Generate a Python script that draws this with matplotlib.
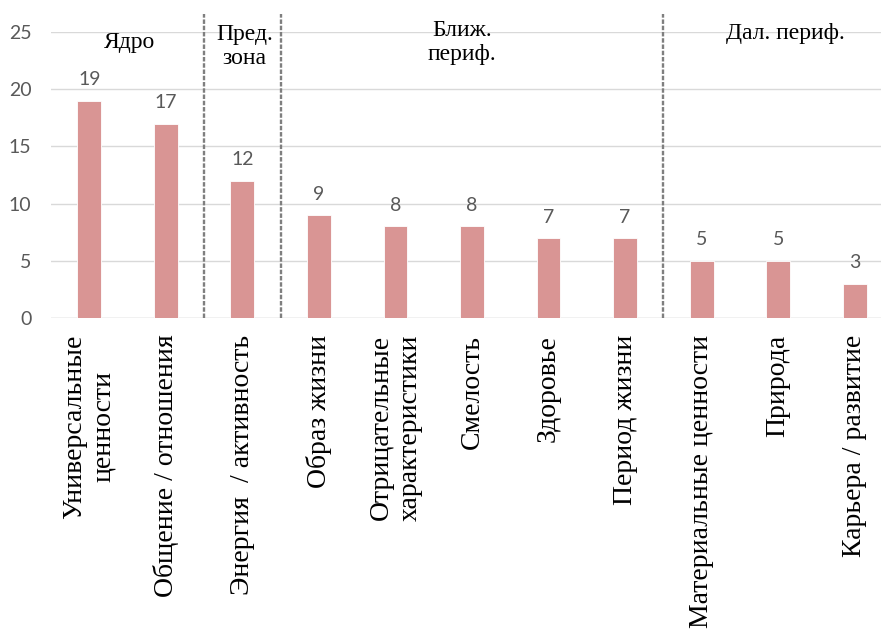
import numpy as np
import matplotlib
matplotlib.use('Agg')
import matplotlib.pyplot as plt

categories = ['Универсальные\nценности', 'Общение / отношения', 'Энергия  / активность',
              'Образ жизни', 'Отрицательные\nхарактеристики', 'Смелость', 'Здоровье',
              'Период жизни', 'Материальные ценности', 'Природа', 'Карьера / развитие']
values = [19, 17, 12, 9, 8, 8, 7, 7, 5, 5, 3]
zone_names = ['Ядро', 'Пред.\nзона', 'Ближ.\nпериф.', 'Дал. периф.']
zone_x = [0.53, 2.03, 4.87, 9.1]
zone_y = [24.1, 23.7, 24.1, 24.85]
borders = [1.5, 2.5, 7.5]

serif = 'Liberation Serif'
sans = 'Lato'

fig = plt.figure(figsize=(8.81, 6.31), dpi=100)
ax = fig.add_axes([51/881, 313/631, 842/881, 286/631])

x = np.arange(len(values))
ax.bar(x, values, width=0.31, color='#D99594', edgecolor='white', linewidth=0.6, zorder=3)

for xi, v in zip(x, values):
    ax.annotate(str(v), (xi, v), xytext=(0, 15), textcoords='offset points',
                ha='center', va='center', fontsize=14, color='#595959', family=sans)

# границы зон
for b in borders:
    ax.plot([b, b], [0, 26.6], ls=(0, (1.9, 0.75)), color='#7F7F7F', lw=1.7,
            clip_on=False, zorder=4)

for name, zx, zy in zip(zone_names, zone_x, zone_y):
    ax.text(zx, zy, name, ha='center', va='center', fontsize=17, family=serif,
            color='black', linespacing=1.2)

ax.set_xlim(-0.5, len(values) - 0.5)
ax.set_ylim(0, 25)
ax.set_yticks(range(0, 26, 5))
ax.yaxis.grid(True, color='#D9D9D9', lw=1, zorder=0)
ax.set_axisbelow(True)
for s in ax.spines.values():
    s.set_visible(False)
ax.axhline(0, color='#D9D9D9', lw=1, zorder=2)

ax.set_xticks(x)
ax.set_xticklabels(categories, rotation=90, fontsize=20, family=serif, linespacing=1.2)
ax.tick_params(axis='x', length=0, pad=12)
ax.tick_params(axis='y', length=0, pad=14, labelsize=14, labelcolor='#595959')
for lbl in ax.get_yticklabels():
    lbl.set_family(sans)

fig.savefig('out.png', dpi=100)
